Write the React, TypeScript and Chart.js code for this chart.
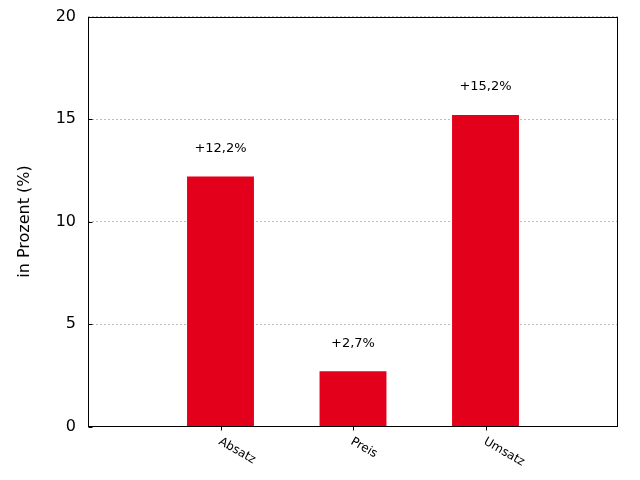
import React, { useEffect, useRef } from "react";
import { Chart, registerables } from "chart.js";

Chart.register(...registerables);

const categories = ["Absatz", "Preis", "Umsatz"];
const values = [12.2, 2.7, 15.2];
const yMin = 0;
const yMax = 20;
const yStep = 5;
const yTitle = "in Prozent (%)";
const barColor = "#e2001a";
const FONT = "'DejaVu Sans', sans-serif";

const formatLabel = (v: number) => "+" + v.toFixed(1).replace(".", ",") + "%";

const decorPlugin = {
  id: "decor",
  afterDatasetsDraw(chart: any) {
    const { ctx, chartArea } = chart;
    const xs = chart.scales.x;
    const ys = chart.scales.y;
    ctx.save();
    // frame
    ctx.strokeStyle = "#000";
    ctx.lineWidth = 1;
    ctx.setLineDash([]);
    const l = Math.round(chartArea.left) + 0.5;
    const r = Math.round(chartArea.right) - 0.5;
    const t = Math.round(chartArea.top) + 0.5;
    const b = Math.round(chartArea.bottom) - 0.5;
    ctx.strokeRect(l, t, r - l, b - t);
    // y ticks inside
    ys.ticks.forEach((tk: any) => {
      const y = Math.round(ys.getPixelForValue(tk.value)) + 0.5;
      ctx.beginPath();
      ctx.moveTo(l, y);
      ctx.lineTo(l + 4, y);
      ctx.stroke();
    });
    // x ticks outside + rotated labels
    ctx.fillStyle = "#000";
    ctx.font = "12px " + FONT;
    ctx.textAlign = "left";
    ctx.textBaseline = "top";
    categories.forEach((c, i) => {
      const x = Math.round(xs.getPixelForValue(i + 1)) + 0.5;
      ctx.beginPath();
      ctx.moveTo(x, b);
      ctx.lineTo(x, b + 4);
      ctx.stroke();
      ctx.save();
      ctx.translate(x + 1, b + 9);
      ctx.rotate(Math.PI / 6);
      ctx.fillText(c, 0, 0);
      ctx.restore();
    });
    // value labels
    const meta = chart.getDatasetMeta(0);
    ctx.font = "13px " + FONT;
    ctx.textAlign = "center";
    ctx.textBaseline = "middle";
    meta.data.forEach((bar: any, i: number) => {
      const v = chart.data.datasets[0].data[i];
      if (v === null || v === undefined) return;
      ctx.fillText(formatLabel(v), bar.x, bar.y - 28);
    });
    ctx.restore();
  },
};

export default function App() {
  const ref = useRef<HTMLCanvasElement | null>(null);
  useEffect(() => {
    if (!ref.current) return;
    const labels = ["", ...categories, ""];
    const data = [null, ...values, null];
    const chart = new Chart(ref.current, {
      type: "bar",
      data: {
        labels,
        datasets: [
          {
            data: data as any,
            backgroundColor: barColor,
            borderWidth: 0,
            barPercentage: 0.505,
            categoryPercentage: 1,
          },
        ],
      },
      options: {
        responsive: false,
        animation: false,
        layout: { padding: { top: 16.5, right: 22, left: 0, bottom: 0 } },
        plugins: {
          legend: { display: false },
          tooltip: { enabled: false },
        },
        scales: {
          x: {
            offset: false,
            grid: { display: false },
            border: { display: false },
            ticks: { display: false },
            afterFit: (s: any) => {
              s.height = 53.5;
              s.paddingLeft = 0;
              s.paddingRight = 0;
              s.paddingTop = 0;
              s.paddingBottom = 0;
            },
          },
          y: {
            min: yMin,
            max: yMax,
            ticks: {
              stepSize: yStep,
              color: "#000",
              font: { family: FONT, size: 16 },
              padding: 12,
            },
            grid: {
              color: "#bdbdbd",
              lineWidth: 1,
              drawTicks: false,
            },
            border: { display: false, dash: [2, 2] },
            title: {
              display: true,
              text: yTitle,
              color: "#000",
              font: { family: FONT, size: 16 },
              padding: { top: 15, bottom: 0 },
            },
            afterFit: (s: any) => {
              s.width = 88;
              s.paddingTop = 0;
              s.paddingBottom = 0;
              s.paddingLeft = 0;
              s.paddingRight = 0;
            },
          },
        },
      },
      plugins: [decorPlugin],
    });
    return () => chart.destroy();
  }, []);
  return (
    <div style={{ position: "fixed", left: 0, top: 0, width: 640, height: 480, background: "#fff" }}>
      <canvas ref={ref} width={640} height={480} style={{ display: "block" }} />
    </div>
  );
}
